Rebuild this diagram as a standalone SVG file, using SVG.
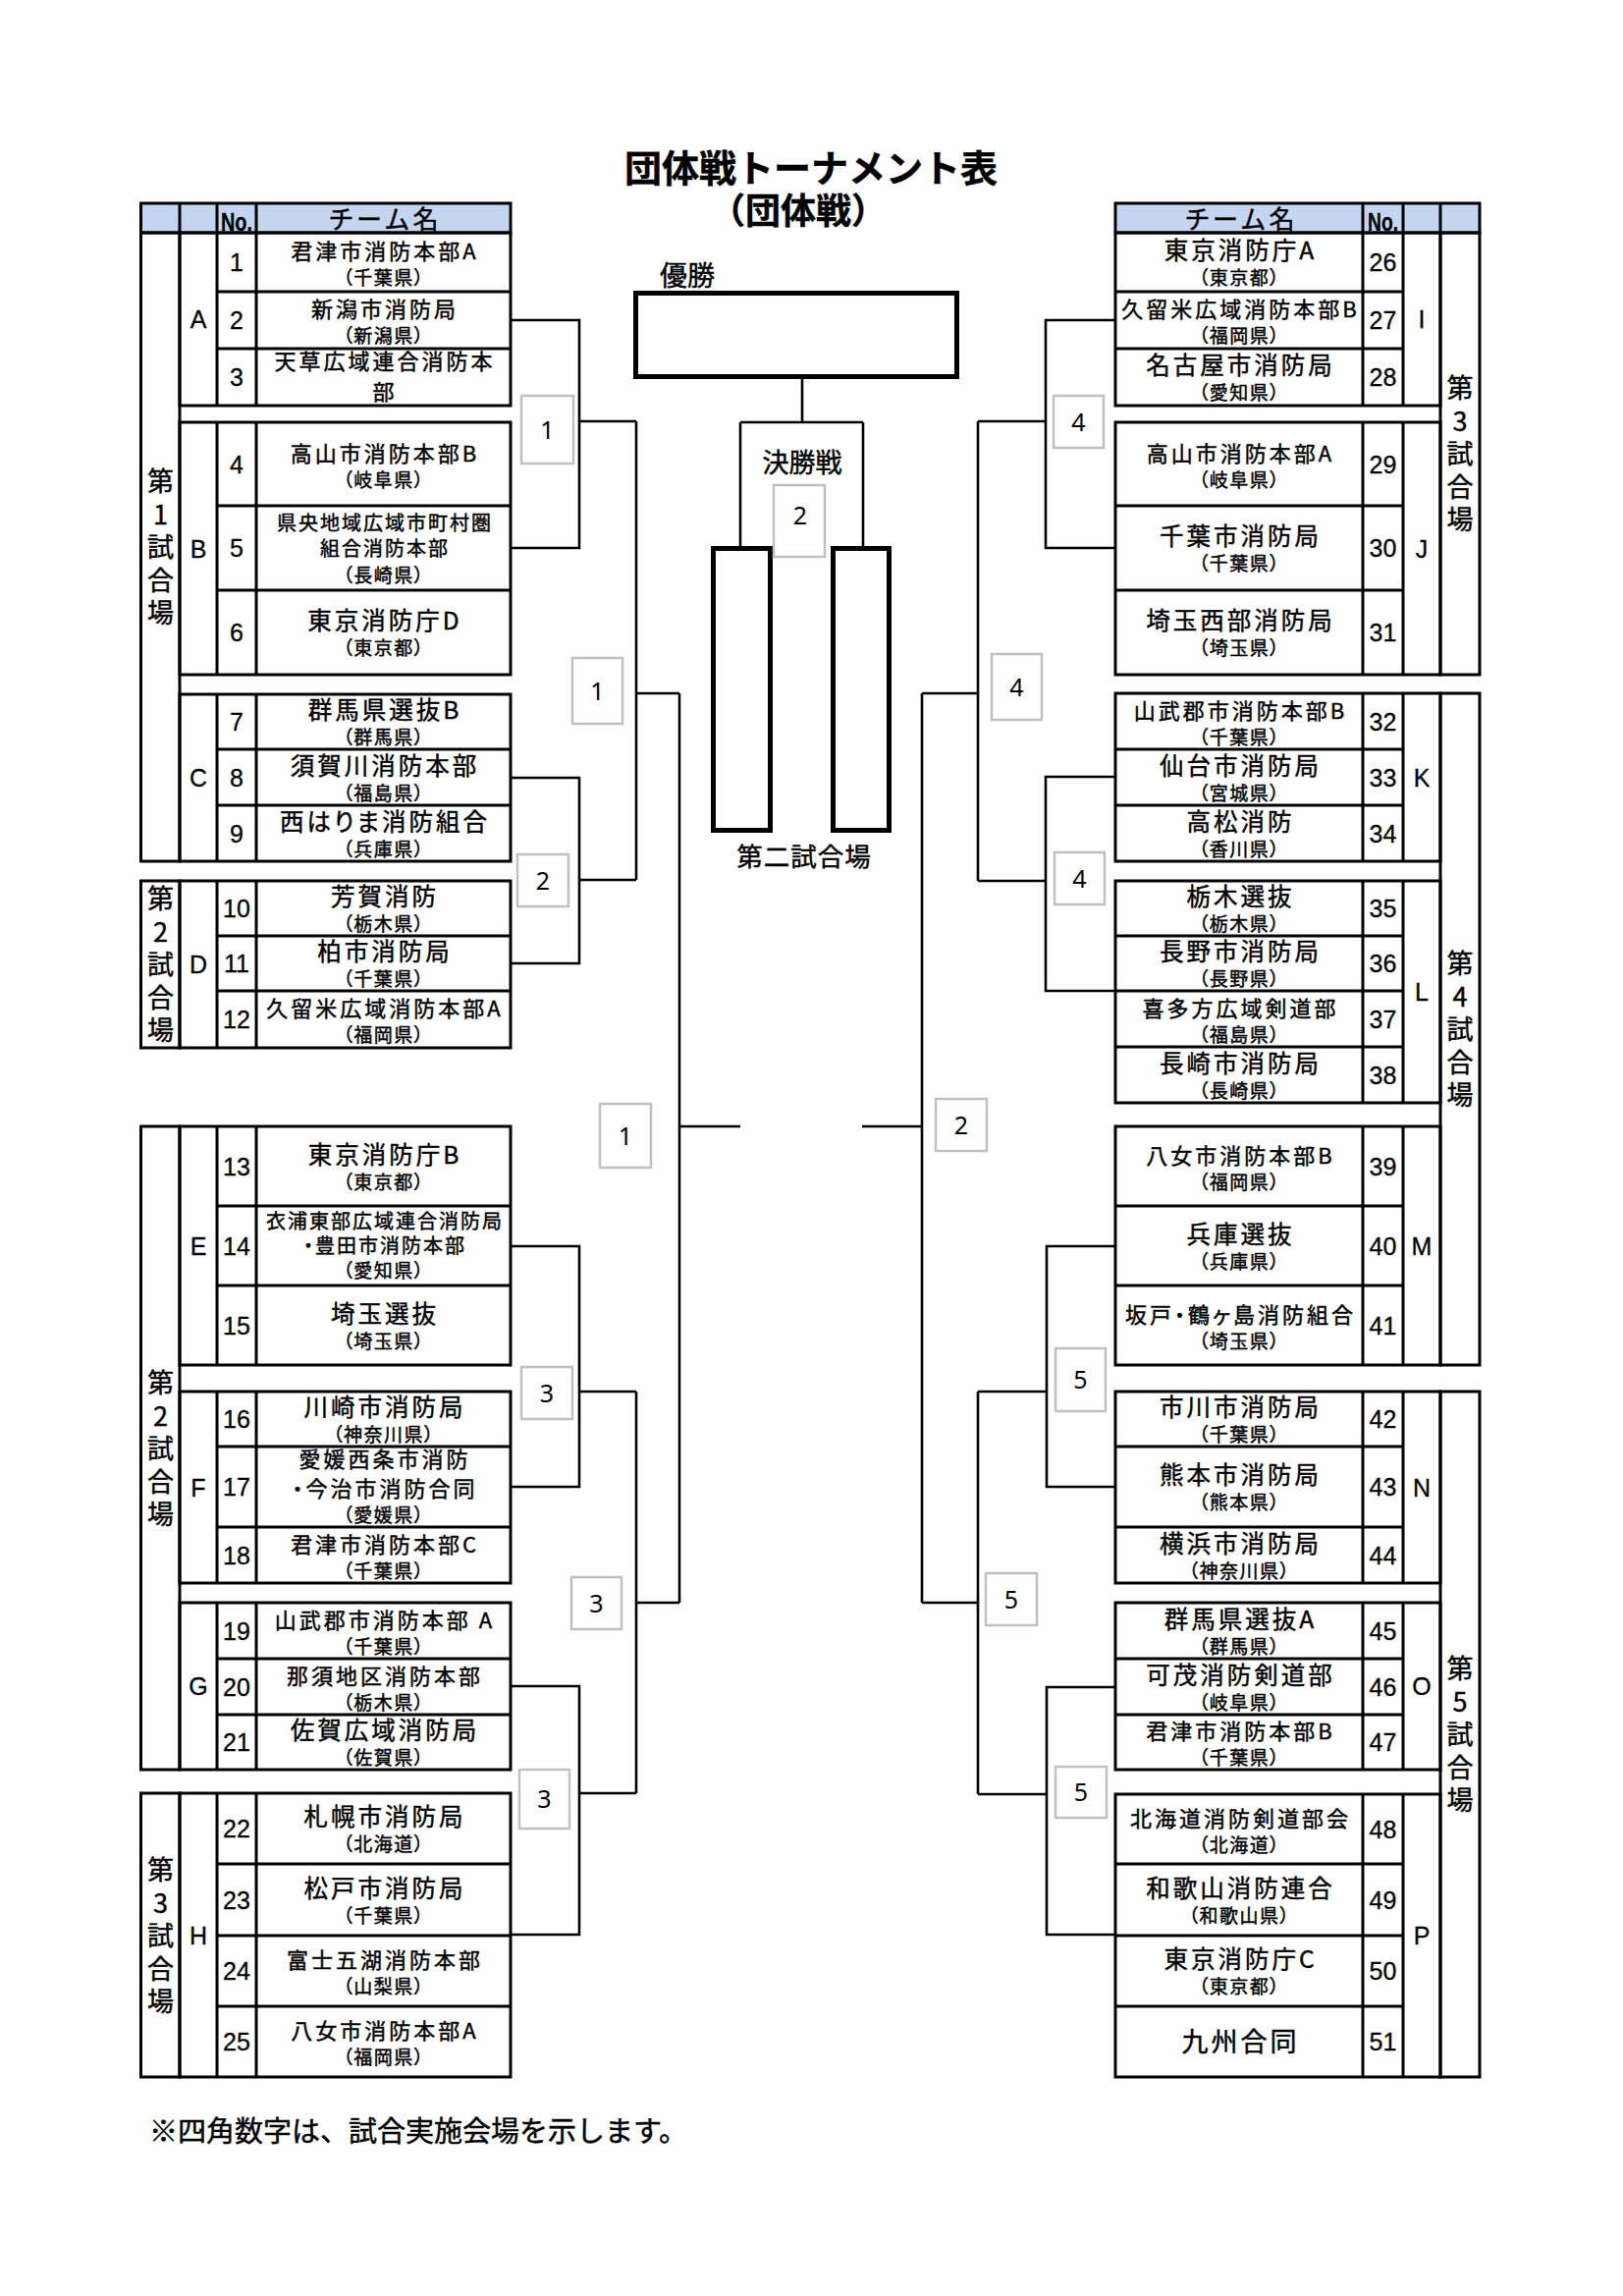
<svg xmlns="http://www.w3.org/2000/svg" width="1653" height="2338" viewBox="0 0 1653 2338">
<style>
.ln{fill:none;stroke:#000;stroke-width:3}
.hd{fill:#c6d5ef;stroke:#000;stroke-width:3}
.cn{fill:none;stroke:#000;stroke-width:2.6;stroke-linejoin:miter}
.thk{fill:none;stroke:#000;stroke-width:5}
.bx{fill:#fff;stroke:#c0c0c0;stroke-width:2.5}
.jp{font-family:"Noto Sans CJK JP","Noto Sans CJK SC",sans-serif;font-feature-settings:"palt";fill:#000;stroke:#000;stroke-width:0.45px;text-anchor:middle}
.m{font-size:22px;letter-spacing:3px}
.ml{font-size:24.5px;letter-spacing:3px}
.mt{font-size:20px;letter-spacing:2px}
.xl{font-size:27px;letter-spacing:3px}
.s{font-size:19px;letter-spacing:1.5px}
.num{font-family:"Liberation Sans",Arial,sans-serif;font-size:25px;text-anchor:middle;fill:#000;stroke:#000;stroke-width:0.3px}
.grp{font-family:"Liberation Sans",Arial,sans-serif;font-size:25px;text-anchor:middle;fill:#000;stroke:#000;stroke-width:0.3px}
.ven{font-family:"Noto Sans CJK JP",sans-serif;font-size:27px;text-anchor:middle;fill:#000;stroke:#000;stroke-width:0.45px}
.bn{font-family:"Noto Sans","Liberation Sans",sans-serif;font-size:25px;text-anchor:middle;fill:#000}
.lbl{font-family:"Noto Sans CJK JP",sans-serif;fill:#000;stroke:#000;stroke-width:0.45px}
</style>
<rect x="0" y="0" width="1653" height="2338" fill="#fff"/>

<g id="title">
<text class="lbl" font-weight="700" text-anchor="middle"><tspan x="826" y="185" font-size="38">団体戦トーナメント表</tspan><tspan x="813" y="228" font-size="36">（団体戦）</tspan></text>
</g>

<!-- Tables: left -->
<g id="table-L1">
<rect class="hd" x="143.5" y="207" width="376.5" height="30"/>
<path class="ln" d="M183,207V237M221,207V237M261,207V237"/>
<text class="num" x="241" y="235" font-weight="700" font-size="30" textLength="32" lengthAdjust="spacingAndGlyphs">No.</text>
<text class="jp" x="393" y="233" font-size="26" letter-spacing="4">チーム名</text>
<rect class="ln" x="143.5" y="237" width="39.5" height="640"/>
<rect class="ln" x="183" y="237" width="337" height="176"/>
<rect class="ln" x="183" y="430" width="337" height="257"/>
<rect class="ln" x="183" y="707" width="337" height="170"/>
<path class="ln" d="M221,237V413M261,237V413M221,297H520M221,355H520M221,430V687M261,430V687M221,515H520M221,601H520M221,707V877M261,707V877M221,763H520M221,820H520"/>
<text class="ven"><tspan x="163.5" y="500">第</tspan><tspan x="163.5" y="533.5">1</tspan><tspan x="163.5" y="567">試</tspan><tspan x="163.5" y="600.5">合</tspan><tspan x="163.5" y="634">場</tspan></text>
<text class="grp" x="202" y="334">A</text><text class="grp" x="202" y="567.5">B</text><text class="grp" x="202" y="801">C</text>
</g>
<g id="table-L2">
<rect class="ln" x="143.5" y="897" width="39.5" height="170"/>
<rect class="ln" x="183" y="897" width="337" height="170"/>
<path class="ln" d="M221,897V1067M261,897V1067M221,953H520M221,1009H520"/>
<text class="ven"><tspan x="163.5" y="925">第</tspan><tspan x="163.5" y="958.5">2</tspan><tspan x="163.5" y="992">試</tspan><tspan x="163.5" y="1025.5">合</tspan><tspan x="163.5" y="1059">場</tspan></text>
<text class="grp" x="202" y="991">D</text>
</g>
<g id="table-L3">
<rect class="ln" x="143.5" y="1147" width="39.5" height="655"/>
<rect class="ln" x="183" y="1147" width="337" height="243"/>
<rect class="ln" x="183" y="1417" width="337" height="195"/>
<rect class="ln" x="183" y="1632" width="337" height="170"/>
<path class="ln" d="M221,1147V1390M261,1147V1390M221,1228H520M221,1309H520M221,1417V1612M261,1417V1612M221,1473H520M221,1555H520M221,1632V1802M261,1632V1802M221,1689H520M221,1746H520"/>
<text class="ven"><tspan x="163.5" y="1418">第</tspan><tspan x="163.5" y="1451.5">2</tspan><tspan x="163.5" y="1485">試</tspan><tspan x="163.5" y="1518.5">合</tspan><tspan x="163.5" y="1552">場</tspan></text>
<text class="grp" x="202" y="1277.5">E</text><text class="grp" x="202" y="1523.5">F</text><text class="grp" x="202" y="1726">G</text>
</g>
<g id="table-L4">
<rect class="ln" x="143.5" y="1826" width="39.5" height="289"/>
<rect class="ln" x="183" y="1826" width="337" height="289"/>
<path class="ln" d="M221,1826V2115M261,1826V2115M221,1898H520M221,1971H520M221,2043H520"/>
<text class="ven"><tspan x="163.5" y="1914">第</tspan><tspan x="163.5" y="1947.5">3</tspan><tspan x="163.5" y="1981">試</tspan><tspan x="163.5" y="2014.5">合</tspan><tspan x="163.5" y="2048">場</tspan></text>
<text class="grp" x="202" y="1979.5">H</text>
</g>

<!-- Tables: right -->
<g id="table-R1">
<rect class="hd" x="1136" y="207" width="371" height="30"/>
<path class="ln" d="M1388,207V237M1429,207V237M1467,207V237"/>
<text class="jp" x="1265" y="233" font-size="26" letter-spacing="4">チーム名</text>
<text class="num" x="1408.5" y="235" font-weight="700" font-size="30" textLength="31" lengthAdjust="spacingAndGlyphs">No.</text>
<rect class="ln" x="1467" y="237" width="40" height="450"/>
<rect class="ln" x="1136" y="237" width="331" height="176"/>
<rect class="ln" x="1136" y="430" width="331" height="257"/>
<path class="ln" d="M1388,237V413M1429,237V413M1136,297H1429M1136,355H1429M1388,430V687M1429,430V687M1136,515H1429M1136,601H1429"/>
<text class="ven"><tspan x="1487" y="405">第</tspan><tspan x="1487" y="438.5">3</tspan><tspan x="1487" y="472">試</tspan><tspan x="1487" y="505.5">合</tspan><tspan x="1487" y="539">場</tspan></text>
<text class="grp" x="1448" y="334" font-family="Liberation Mono">I</text><text class="grp" x="1448" y="567.5">J</text>
</g>
<g id="table-R2">
<rect class="ln" x="1467" y="706" width="40" height="684"/>
<rect class="ln" x="1136" y="706" width="331" height="171"/>
<rect class="ln" x="1136" y="897" width="331" height="226"/>
<rect class="ln" x="1136" y="1147" width="331" height="243"/>
<path class="ln" d="M1388,706V877M1429,706V877M1136,763H1429M1136,820H1429M1388,897V1123M1429,897V1123M1136,953H1429M1136,1009H1429M1136,1066H1429M1388,1147V1390M1429,1147V1390M1136,1228H1429M1136,1309H1429"/>
<text class="ven"><tspan x="1487" y="991">第</tspan><tspan x="1487" y="1024.5">4</tspan><tspan x="1487" y="1058">試</tspan><tspan x="1487" y="1091.5">合</tspan><tspan x="1487" y="1125">場</tspan></text>
<text class="grp" x="1448" y="800.5">K</text><text class="grp" x="1448" y="1019">L</text><text class="grp" x="1448" y="1277.5">M</text>
</g>
<g id="table-R3">
<rect class="ln" x="1467" y="1417" width="40" height="698"/>
<rect class="ln" x="1136" y="1417" width="331" height="195"/>
<rect class="ln" x="1136" y="1632" width="331" height="170"/>
<rect class="ln" x="1136" y="1827" width="331" height="288"/>
<path class="ln" d="M1388,1417V1612M1429,1417V1612M1136,1473H1429M1136,1555H1429M1388,1632V1802M1429,1632V1802M1136,1689H1429M1136,1746H1429M1388,1827V2115M1429,1827V2115M1136,1898H1429M1136,1971H1429M1136,2043H1429"/>
<text class="ven"><tspan x="1487" y="1709">第</tspan><tspan x="1487" y="1742.5">5</tspan><tspan x="1487" y="1776">試</tspan><tspan x="1487" y="1809.5">合</tspan><tspan x="1487" y="1843">場</tspan></text>
<text class="grp" x="1448" y="1523.5">N</text><text class="grp" x="1448" y="1726">O</text><text class="grp" x="1448" y="1980">P</text>
</g>

<!-- Teams left -->
<g id="team-01"><text class="jp"><tspan class="m" x="392" y="264">君津市消防本部A</tspan><tspan class="s" x="391" y="290">（千葉県）</tspan></text><text class="num" x="241" y="276">1</text></g>
<g id="team-02"><text class="jp"><tspan class="m" x="392" y="323">新潟市消防局</tspan><tspan class="s" x="391" y="349">（新潟県）</tspan></text><text class="num" x="241" y="335">2</text></g>
<g id="team-03"><text class="jp"><tspan class="m" x="392" y="375.5">天草広域連合消防本</tspan><tspan class="m" x="392" y="406.5">部</tspan></text><text class="num" x="241" y="393">3</text></g>
<g id="team-04"><text class="jp"><tspan class="m" x="392" y="469.5">高山市消防本部B</tspan><tspan class="s" x="391" y="495.5">（岐阜県）</tspan></text><text class="num" x="241" y="481.5">4</text></g>
<g id="team-05"><text class="jp"><tspan class="mt" x="392" y="540">県央地域広域市町村圏</tspan><tspan class="mt" x="392" y="566">組合消防本部</tspan><tspan class="s" x="391" y="593">（長崎県）</tspan></text><text class="num" x="241" y="567">5</text></g>
<g id="team-06"><text class="jp"><tspan class="ml" x="392" y="641">東京消防庁D</tspan><tspan class="s" x="391" y="667">（東京都）</tspan></text><text class="num" x="241" y="653">6</text></g>
<g id="team-07"><text class="jp"><tspan class="ml" x="392" y="732">群馬県選抜B</tspan><tspan class="s" x="391" y="758">（群馬県）</tspan></text><text class="num" x="241" y="744">7</text></g>
<g id="team-08"><text class="jp"><tspan class="ml" x="392" y="788.5">須賀川消防本部</tspan><tspan class="s" x="391" y="814.5">（福島県）</tspan></text><text class="num" x="241" y="800.5">8</text></g>
<g id="team-09"><text class="jp"><tspan class="ml" x="392" y="845.5">西はりま消防組合</tspan><tspan class="s" x="391" y="871.5">（兵庫県）</tspan></text><text class="num" x="241" y="857.5">9</text></g>
<g id="team-10"><text class="jp"><tspan class="ml" x="392" y="922">芳賀消防</tspan><tspan class="s" x="391" y="948">（栃木県）</tspan></text><text class="num" x="241" y="934">10</text></g>
<g id="team-11"><text class="jp"><tspan class="ml" x="392" y="978">柏市消防局</tspan><tspan class="s" x="391" y="1004">（千葉県）</tspan></text><text class="num" x="241" y="990">11</text></g>
<g id="team-12"><text class="jp"><tspan class="m" x="392" y="1035">久留米広域消防本部A</tspan><tspan class="s" x="391" y="1061">（福岡県）</tspan></text><text class="num" x="241" y="1047">12</text></g>
<g id="team-13"><text class="jp"><tspan class="ml" x="392" y="1184.5">東京消防庁B</tspan><tspan class="s" x="391" y="1210.5">（東京都）</tspan></text><text class="num" x="241" y="1196.5">13</text></g>
<g id="team-14"><text class="jp"><tspan class="mt" x="392" y="1251">衣浦東部広域連合消防局</tspan><tspan class="mt" x="392" y="1276">・豊田市消防本部</tspan><tspan class="s" x="391" y="1301">（愛知県）</tspan></text><text class="num" x="241" y="1277.5">14</text></g>
<g id="team-15"><text class="jp"><tspan class="ml" x="392" y="1346.5">埼玉選抜</tspan><tspan class="s" x="391" y="1372.5">（埼玉県）</tspan></text><text class="num" x="241" y="1358.5">15</text></g>
<g id="team-16"><text class="jp"><tspan class="ml" x="392" y="1442">川崎市消防局</tspan><tspan class="s" x="391" y="1468">（神奈川県）</tspan></text><text class="num" x="241" y="1454">16</text></g>
<g id="team-17"><text class="jp"><tspan class="m" x="392" y="1494">愛媛西条市消防</tspan><tspan class="m" x="392" y="1524">・今治市消防合同</tspan><tspan class="s" x="391" y="1550">（愛媛県）</tspan></text><text class="num" x="241" y="1523">17</text></g>
<g id="team-18"><text class="jp"><tspan class="m" x="392" y="1580.5">君津市消防本部C</tspan><tspan class="s" x="391" y="1606.5">（千葉県）</tspan></text><text class="num" x="241" y="1592.5">18</text></g>
<g id="team-19"><text class="jp"><tspan class="m" x="392" y="1657.5">山武郡市消防本部 A</tspan><tspan class="s" x="391" y="1683.5">（千葉県）</tspan></text><text class="num" x="241" y="1669.5">19</text></g>
<g id="team-20"><text class="jp"><tspan class="m" x="392" y="1714.5">那須地区消防本部</tspan><tspan class="s" x="391" y="1740.5">（栃木県）</tspan></text><text class="num" x="241" y="1726.5">20</text></g>
<g id="team-21"><text class="jp"><tspan class="ml" x="392" y="1771">佐賀広域消防局</tspan><tspan class="s" x="391" y="1797">（佐賀県）</tspan></text><text class="num" x="241" y="1783">21</text></g>
<g id="team-22"><text class="jp"><tspan class="ml" x="392" y="1859">札幌市消防局</tspan><tspan class="s" x="391" y="1885">（北海道）</tspan></text><text class="num" x="241" y="1871">22</text></g>
<g id="team-23"><text class="jp"><tspan class="ml" x="392" y="1931.5">松戸市消防局</tspan><tspan class="s" x="391" y="1957.5">（千葉県）</tspan></text><text class="num" x="241" y="1943.5">23</text></g>
<g id="team-24"><text class="jp"><tspan class="m" x="392" y="2004">富士五湖消防本部</tspan><tspan class="s" x="391" y="2030">（山梨県）</tspan></text><text class="num" x="241" y="2016">24</text></g>
<g id="team-25"><text class="jp"><tspan class="m" x="392" y="2076">八女市消防本部A</tspan><tspan class="s" x="391" y="2102">（福岡県）</tspan></text><text class="num" x="241" y="2088">25</text></g>

<!-- Teams right -->
<g id="team-26"><text class="jp"><tspan class="ml" x="1263.5" y="264">東京消防庁A</tspan><tspan class="s" x="1262.5" y="290">（東京都）</tspan></text><text class="num" x="1408.5" y="276">26</text></g>
<g id="team-27"><text class="jp"><tspan class="m" x="1263.5" y="323">久留米広域消防本部B</tspan><tspan class="s" x="1262.5" y="349">（福岡県）</tspan></text><text class="num" x="1408.5" y="335">27</text></g>
<g id="team-28"><text class="jp"><tspan class="ml" x="1263.5" y="381">名古屋市消防局</tspan><tspan class="s" x="1262.5" y="407">（愛知県）</tspan></text><text class="num" x="1408.5" y="393">28</text></g>
<g id="team-29"><text class="jp"><tspan class="m" x="1263.5" y="469.5">高山市消防本部A</tspan><tspan class="s" x="1262.5" y="495.5">（岐阜県）</tspan></text><text class="num" x="1408.5" y="481.5">29</text></g>
<g id="team-30"><text class="jp"><tspan class="ml" x="1263.5" y="555">千葉市消防局</tspan><tspan class="s" x="1262.5" y="581">（千葉県）</tspan></text><text class="num" x="1408.5" y="567">30</text></g>
<g id="team-31"><text class="jp"><tspan class="ml" x="1263.5" y="641">埼玉西部消防局</tspan><tspan class="s" x="1262.5" y="667">（埼玉県）</tspan></text><text class="num" x="1408.5" y="653">31</text></g>
<g id="team-32"><text class="jp"><tspan class="m" x="1263.5" y="731.5">山武郡市消防本部B</tspan><tspan class="s" x="1262.5" y="757.5">（千葉県）</tspan></text><text class="num" x="1408.5" y="743.5">32</text></g>
<g id="team-33"><text class="jp"><tspan class="ml" x="1263.5" y="788.5">仙台市消防局</tspan><tspan class="s" x="1262.5" y="814.5">（宮城県）</tspan></text><text class="num" x="1408.5" y="800.5">33</text></g>
<g id="team-34"><text class="jp"><tspan class="ml" x="1263.5" y="845.5">高松消防</tspan><tspan class="s" x="1262.5" y="871.5">（香川県）</tspan></text><text class="num" x="1408.5" y="857.5">34</text></g>
<g id="team-35"><text class="jp"><tspan class="ml" x="1263.5" y="922">栃木選抜</tspan><tspan class="s" x="1262.5" y="948">（栃木県）</tspan></text><text class="num" x="1408.5" y="934">35</text></g>
<g id="team-36"><text class="jp"><tspan class="ml" x="1263.5" y="978">長野市消防局</tspan><tspan class="s" x="1262.5" y="1004">（長野県）</tspan></text><text class="num" x="1408.5" y="990">36</text></g>
<g id="team-37"><text class="jp"><tspan class="m" x="1263.5" y="1034.5">喜多方広域剣道部</tspan><tspan class="s" x="1262.5" y="1060.5">（福島県）</tspan></text><text class="num" x="1408.5" y="1046.5">37</text></g>
<g id="team-38"><text class="jp"><tspan class="ml" x="1263.5" y="1091.5">長崎市消防局</tspan><tspan class="s" x="1262.5" y="1117.5">（長崎県）</tspan></text><text class="num" x="1408.5" y="1103.5">38</text></g>
<g id="team-39"><text class="jp"><tspan class="m" x="1263.5" y="1184.5">八女市消防本部B</tspan><tspan class="s" x="1262.5" y="1210.5">（福岡県）</tspan></text><text class="num" x="1408.5" y="1196.5">39</text></g>
<g id="team-40"><text class="jp"><tspan class="ml" x="1263.5" y="1265.5">兵庫選抜</tspan><tspan class="s" x="1262.5" y="1291.5">（兵庫県）</tspan></text><text class="num" x="1408.5" y="1277.5">40</text></g>
<g id="team-41"><text class="jp"><tspan class="m" x="1263.5" y="1346.5">坂戸・鶴ヶ島消防組合</tspan><tspan class="s" x="1262.5" y="1372.5">（埼玉県）</tspan></text><text class="num" x="1408.5" y="1358.5">41</text></g>
<g id="team-42"><text class="jp"><tspan class="ml" x="1263.5" y="1442">市川市消防局</tspan><tspan class="s" x="1262.5" y="1468">（千葉県）</tspan></text><text class="num" x="1408.5" y="1454">42</text></g>
<g id="team-43"><text class="jp"><tspan class="ml" x="1263.5" y="1511">熊本市消防局</tspan><tspan class="s" x="1262.5" y="1537">（熊本県）</tspan></text><text class="num" x="1408.5" y="1523">43</text></g>
<g id="team-44"><text class="jp"><tspan class="ml" x="1263.5" y="1580.5">横浜市消防局</tspan><tspan class="s" x="1262.5" y="1606.5">（神奈川県）</tspan></text><text class="num" x="1408.5" y="1592.5">44</text></g>
<g id="team-45"><text class="jp"><tspan class="ml" x="1263.5" y="1657.5">群馬県選抜A</tspan><tspan class="s" x="1262.5" y="1683.5">（群馬県）</tspan></text><text class="num" x="1408.5" y="1669.5">45</text></g>
<g id="team-46"><text class="jp"><tspan class="ml" x="1263.5" y="1714.5">可茂消防剣道部</tspan><tspan class="s" x="1262.5" y="1740.5">（岐阜県）</tspan></text><text class="num" x="1408.5" y="1726.5">46</text></g>
<g id="team-47"><text class="jp"><tspan class="m" x="1263.5" y="1771">君津市消防本部B</tspan><tspan class="s" x="1262.5" y="1797">（千葉県）</tspan></text><text class="num" x="1408.5" y="1783">47</text></g>
<g id="team-48"><text class="jp"><tspan class="m" x="1263.5" y="1859.5">北海道消防剣道部会</tspan><tspan class="s" x="1262.5" y="1885.5">（北海道）</tspan></text><text class="num" x="1408.5" y="1871.5">48</text></g>
<g id="team-49"><text class="jp"><tspan class="ml" x="1263.5" y="1931.5">和歌山消防連合</tspan><tspan class="s" x="1262.5" y="1957.5">（和歌山県）</tspan></text><text class="num" x="1408.5" y="1943.5">49</text></g>
<g id="team-50"><text class="jp"><tspan class="ml" x="1263.5" y="2004">東京消防庁C</tspan><tspan class="s" x="1262.5" y="2030">（東京都）</tspan></text><text class="num" x="1408.5" y="2016">50</text></g>
<g id="team-51"><text class="jp xl" x="1263.5" y="2089">九州合同</text><text class="num" x="1408.5" y="2088">51</text></g>

<!-- Connectors -->
<g id="connectors">
<path class="cn" d="M520,326H590V558H520M590,429H648M520,792H590V981H520M590,896H648M648,429V896M648,706H692M520,1269H590V1514H520M590,1417H648M520,1717H590V1970H520M590,1826H648M648,1417V1826M648,1632H692M692,706V1632M692,1147H754"/>
<path class="cn" d="M1136,326H1065V558H1136M1065,429H996M1136,791H1065V1009H1136M1065,897H996M996,429V897M996,706H939M1136,1269H1066V1514H1136M1066,1417H996M1136,1718H1066V1970H1136M1066,1827H996M996,1417V1827M996,1632H939M939,706V1632M939,1147H878"/>
<path class="cn" d="M817,386V430M754,430H879M754,430V556M879,430V556"/>
</g>

<g id="winner">
<rect class="thk" x="647.5" y="298.5" width="327" height="85"/>
<text class="lbl" x="672" y="291" font-size="28">優勝</text>
</g>
<g id="final">
<text class="lbl" x="817" y="481" font-size="27" text-anchor="middle">決勝戦</text>
<rect class="thk" x="726.5" y="558.5" width="58" height="287"/>
<rect class="thk" x="848.5" y="558.5" width="57" height="287"/>
<text class="lbl" x="819" y="882" font-size="26.5" letter-spacing="1" text-anchor="middle">第二試合場</text>
</g>

<!-- Venue boxes -->
<g id="venue-boxes">
<g id="box-1a"><rect class="bx" x="531" y="403" width="53" height="69"/><text class="bn" x="557.5" y="446.5">1</text></g>
<g id="box-1b"><rect class="bx" x="583" y="670" width="51" height="67"/><text class="bn" x="608.5" y="712.5">1</text></g>
<g id="box-2a"><rect class="bx" x="527" y="870" width="52" height="53"/><text class="bn" x="553" y="905.5">2</text></g>
<g id="box-1c"><rect class="bx" x="611" y="1124" width="52" height="65"/><text class="bn" x="637" y="1165.5">1</text></g>
<g id="box-3a"><rect class="bx" x="531" y="1392" width="52" height="53"/><text class="bn" x="557" y="1427.5">3</text></g>
<g id="box-3b"><rect class="bx" x="582" y="1606" width="51" height="53"/><text class="bn" x="607.5" y="1641.5">3</text></g>
<g id="box-3c"><rect class="bx" x="529" y="1802" width="51" height="60"/><text class="bn" x="554.5" y="1841">3</text></g>
<g id="box-2f"><rect class="bx" x="788" y="494" width="52" height="73"/><text class="bn" x="815" y="534">2</text></g>
<g id="box-4a"><rect class="bx" x="1073" y="403" width="51" height="53"/><text class="bn" x="1098.5" y="438.5">4</text></g>
<g id="box-4b"><rect class="bx" x="1010" y="666" width="51" height="67"/><text class="bn" x="1035.5" y="708.5">4</text></g>
<g id="box-4c"><rect class="bx" x="1074" y="868" width="51" height="53"/><text class="bn" x="1099.5" y="903.5">4</text></g>
<g id="box-2b"><rect class="bx" x="953" y="1119" width="52" height="53"/><text class="bn" x="979" y="1154.5">2</text></g>
<g id="box-5a"><rect class="bx" x="1075" y="1373" width="51" height="64"/><text class="bn" x="1100.5" y="1414">5</text></g>
<g id="box-5b"><rect class="bx" x="1004" y="1602" width="52" height="53"/><text class="bn" x="1030" y="1637.5">5</text></g>
<g id="box-5c"><rect class="bx" x="1075" y="1799" width="52" height="52"/><text class="bn" x="1101" y="1834">5</text></g>
</g>

<g id="footnote">
<text class="lbl" x="152" y="2181" font-size="29">※四角数字は、試合実施会場を示します。</text>
</g>
</svg>
